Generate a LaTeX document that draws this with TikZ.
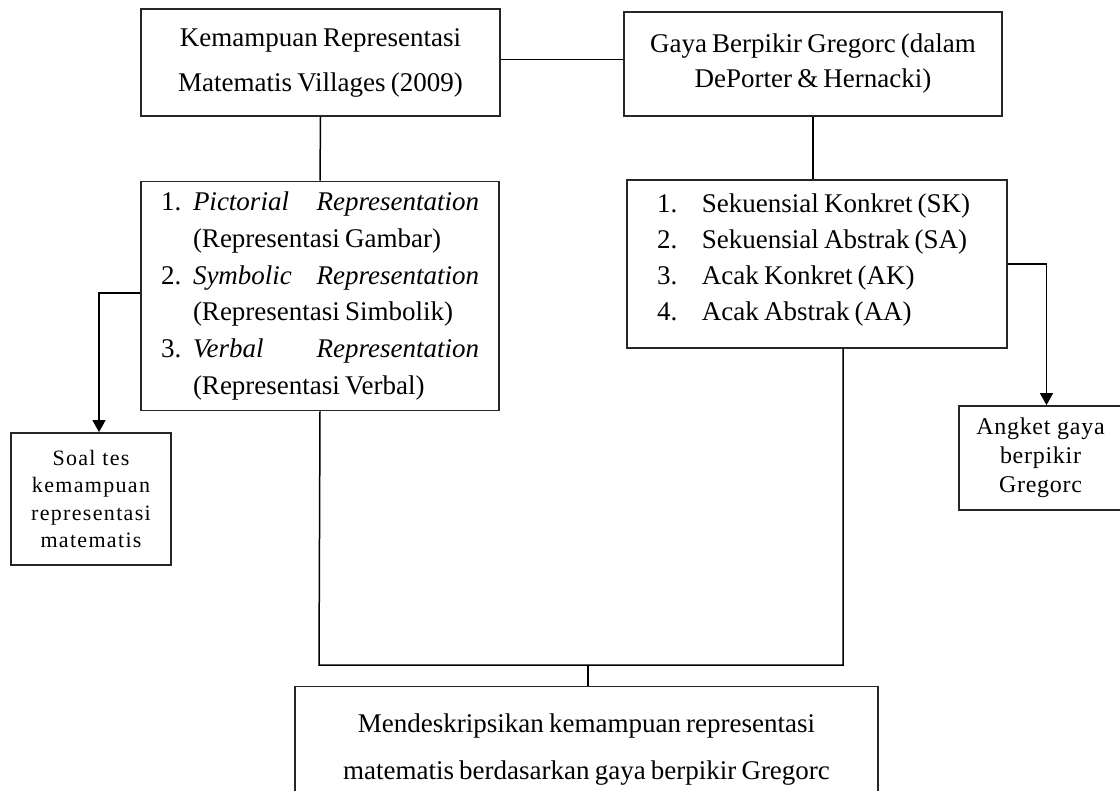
\documentclass[tikz,border=0pt]{standalone}
\usepackage{fontspec}
\setmainfont{Liberation Serif}
\usetikzlibrary{arrows.meta}

% font size, line distance and tight word spaces
\newcommand\huruf[2]{\fontsize{#1}{#2}\selectfont\spaceskip=0.19em plus 0.1em minus 0.03em\relax}

\begin{document}
\begin{tikzpicture}[x=1pt,y=-1pt,
    kotak/.style={draw=black!85, line width=1.8pt, rectangle, inner sep=0pt, align=center},
    garis/.style={line width=1.5pt},
    panah/.style={line width=1.5pt, -{Triangle[width=13pt,length=12pt]}}]

\useasboundingbox (0,0) rectangle (1120,791);

% Top boxes
\node[kotak, minimum width=359pt, minimum height=107pt,
      font=\huruf{27pt}{45pt}] (kemampuan) at (320.5,62.5)
      {Kemampuan Representasi\\Matematis Villages (2009)};
\node[kotak, minimum width=378pt, minimum height=104pt,
      font=\huruf{27pt}{35pt}] (gaya) at (813,64)
      {Gaya Berpikir Gregorc (dalam\\DePorter \& Hernacki)};

% Lists
\node[kotak, minimum width=358pt, minimum height=229pt,
      font=\huruf{27pt}{36.8pt}] (jenis) at (320,296) {%
    \parbox{318pt}{\raggedright
    \makebox[32pt][l]{1.}\makebox[286pt][l]{\textit{Pictorial}\hfill\textit{Representation}}\\
    \hspace*{32pt}(Representasi Gambar)\\
    \makebox[32pt][l]{2.}\makebox[286pt][l]{\textit{Symbolic}\hfill\textit{Representation}}\\
    \hspace*{32pt}(Representasi Simbolik)\\
    \makebox[32pt][l]{3.}\makebox[286pt][l]{\textit{Verbal}\hfill\textit{Representation}}\\
    \hspace*{32pt}(Representasi Verbal)}};
\node[kotak, minimum width=380pt, minimum height=168pt,
      font=\huruf{27pt}{36pt}] (tipe) at (817,264) {%
    \raisebox{4pt}[\height][\depth]{\parbox{320pt}{\raggedright
    \makebox[45pt][l]{1.}Sekuensial Konkret (SK)\\
    \makebox[45pt][l]{2.}Sekuensial Abstrak (SA)\\
    \makebox[45pt][l]{3.}Acak Konkret (AK)\\
    \makebox[45pt][l]{4.}Acak Abstrak (AA)}}};

% Instruments
\node[kotak, minimum width=160pt, minimum height=132pt,
      font=\fontsize{22pt}{27.5pt}\selectfont\addfontfeatures{LetterSpace=6}] (soal) at (91,499)
      {Soal tes\\kemampuan\\representasi\\matematis};
\node[kotak, minimum width=163pt, minimum height=104pt,
      font=\fontsize{24pt}{29pt}\selectfont\addfontfeatures{LetterSpace=3}] (angket) at (1040.5,458)
      {Angket gaya\\berpikir\\Gregorc};

% Goal (cut by the page edge)
\node[kotak, minimum width=583pt, minimum height=127pt,
      font=\huruf{27pt}{47pt}] (tujuan) at (586.5,750)
      {Mendeskripsikan kemampuan representasi\\matematis berdasarkan gaya berpikir Gregorc};

\coordinate (kiri) at (319,665);
\coordinate (kanan) at (843,665);
\coordinate (tengah) at (588,665);

% Connectors
\draw[garis] ([yshift=3pt]kemampuan.east) -- ([yshift=3pt]kemampuan.east -| gaya.west);
\draw[garis] (kemampuan.south) -- (jenis.north);
\draw[garis] (gaya.south) -- (gaya.south |- tipe.north);
\draw[panah] ([yshift=3pt]jenis.west) -| ([xshift=8pt]soal.north);
\draw[panah] (tipe.east) -| ([xshift=6pt]angket.north);
\draw[garis] (jenis.south) -- (kiri) -- (kanan) -- (kanan |- tipe.south);
\draw[garis] (tengah) -- (tengah |- tujuan.north);

\end{tikzpicture}
\end{document}
